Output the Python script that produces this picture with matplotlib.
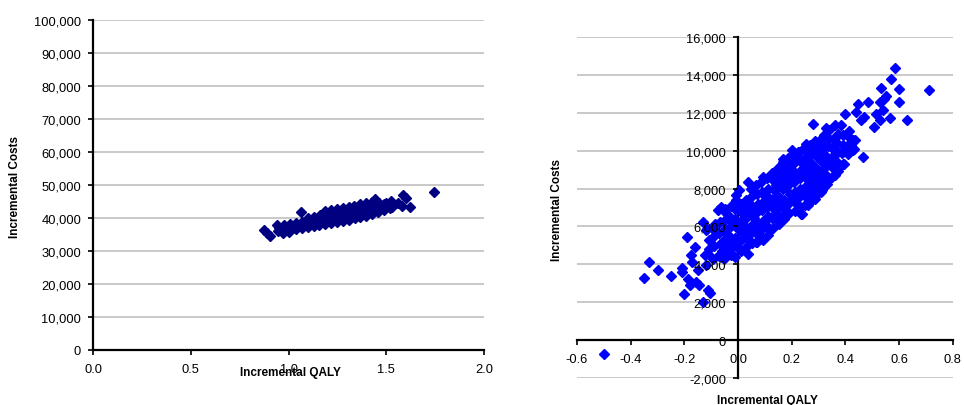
"""Two cost-effectiveness planes: incremental QALY vs incremental costs."""
import matplotlib

matplotlib.use("Agg")
import matplotlib.pyplot as plt
from matplotlib.ticker import StrMethodFormatter

# left plane: main cloud + stragglers
left_cloud = [
    (0.948, 36000), (0.952, 36850),
    (0.978, 36250), (0.982, 37050), (0.979, 37800),
    (1.008, 36450), (1.012, 37300), (1.009, 38150),
    (1.038, 36700), (1.042, 37600), (1.039, 38500),
    (1.068, 36950), (1.072, 37850), (1.069, 38900),
    (1.098, 37200), (1.102, 38300), (1.099, 39150), (1.101, 40000),
    (1.128, 37500), (1.132, 38550), (1.129, 39500), (1.131, 40450),
    (1.158, 37800), (1.162, 38900), (1.159, 39850), (1.161, 40900),
    (1.188, 38100), (1.192, 39250), (1.189, 40200), (1.191, 41150), (1.187, 42150),
    (1.218, 38450), (1.222, 39600), (1.219, 40550), (1.221, 41500), (1.217, 42500),
    (1.248, 38800), (1.252, 39900), (1.249, 40850), (1.251, 41800), (1.247, 42800),
    (1.278, 39150), (1.282, 40300), (1.279, 41200), (1.281, 42100), (1.277, 43100),
    (1.308, 39500), (1.312, 40600), (1.309, 41550), (1.311, 42500), (1.307, 43400),
    (1.338, 39900), (1.342, 40950), (1.339, 41900), (1.341, 42800), (1.337, 43700),
    (1.368, 40300), (1.372, 41300), (1.369, 42250), (1.371, 43100), (1.367, 44100),
    (1.398, 40700), (1.402, 41700), (1.399, 42600), (1.401, 43500), (1.397, 44400),
    (1.428, 41200), (1.432, 42200), (1.429, 43100), (1.431, 44000), (1.427, 44800),
    (1.458, 41800), (1.462, 42700), (1.459, 43600), (1.461, 44500),
    (1.488, 42500), (1.492, 43400), (1.489, 44250),
    (1.518, 43000), (1.522, 43950),
]
left_outliers = [
    (0.875, 36300), (0.89, 35600), (0.907, 34400), (0.94, 37900), (0.97, 35500),
    (1.00, 35700), (1.063, 41900), (1.44, 45900), (1.50, 44400), (1.526, 45200),
    (1.53, 43200), (1.56, 44500), (1.585, 46900), (1.60, 46100), (1.58, 43700),
    (1.62, 43300), (1.743, 47950),
]

# right plane
right_cloud = [
    (-0.112, 4550), (-0.108, 5300), (-0.114, 5850),
    (-0.092, 4300), (-0.088, 4950), (-0.091, 5500), (-0.087, 6150),
    (-0.072, 4450), (-0.068, 5050), (-0.071, 5650), (-0.069, 6250), (-0.073, 6850),
    (-0.052, 4300), (-0.049, 4850), (-0.051, 5300), (-0.048, 5850), (-0.053, 6300), (-0.047, 6750),
    (-0.031, 4550), (-0.029, 5050), (-0.033, 5500), (-0.028, 6000), (-0.032, 6550), (-0.027, 7100),
    (-0.012, 4400), (-0.009, 4950), (-0.011, 5400), (-0.008, 5950), (-0.013, 6400), (-0.010, 6900), (-0.007, 7400),
    (0.011, 4700), (0.008, 5250), (0.012, 5700), (0.009, 6250), (0.013, 6700), (0.010, 7200),
    (0.031, 4900), (0.028, 5450), (0.032, 5900), (0.029, 6450), (0.033, 6900), (0.030, 7400),
    (0.051, 5100), (0.048, 5650), (0.052, 6100), (0.049, 6650), (0.053, 7100), (0.050, 7600), (0.047, 8000),
    (0.071, 5200), (0.068, 5750), (0.072, 6200), (0.069, 6750), (0.073, 7200), (0.070, 7700), (0.067, 8200),
    (0.091, 5300), (0.088, 5850), (0.092, 6300), (0.089, 6850), (0.093, 7300), (0.090, 7800), (0.087, 8350),
    (0.111, 5550), (0.108, 6000), (0.112, 6550), (0.109, 7000), (0.113, 7550), (0.110, 8000), (0.107, 8550),
    (0.131, 5900), (0.128, 6450), (0.132, 6900), (0.129, 7450), (0.133, 7900), (0.130, 8450), (0.127, 8800),
    (0.151, 6150), (0.148, 6600), (0.152, 7150), (0.149, 7600), (0.153, 8150), (0.150, 8600), (0.147, 9100),
    (0.171, 6400), (0.168, 6950), (0.172, 7400), (0.169, 7950), (0.173, 8400), (0.170, 8950), (0.167, 9400),
    (0.191, 6700), (0.188, 7250), (0.192, 7700), (0.189, 8250), (0.193, 8700), (0.190, 9250), (0.187, 9600),
    (0.211, 6800), (0.208, 7350), (0.212, 7800), (0.209, 8350), (0.213, 8800), (0.210, 9350), (0.207, 9800),
    (0.231, 7000), (0.228, 7550), (0.232, 8000), (0.229, 8550), (0.233, 9000), (0.230, 9550), (0.227, 9950),
    (0.251, 7150), (0.248, 7600), (0.252, 8150), (0.249, 8600), (0.253, 9150), (0.250, 9600), (0.247, 10150),
    (0.271, 7350), (0.268, 7800), (0.272, 8350), (0.269, 8800), (0.273, 9350), (0.270, 9800), (0.267, 10300),
    (0.291, 7650), (0.288, 8100), (0.292, 8650), (0.289, 9100), (0.293, 9650), (0.290, 10100), (0.287, 10500),
    (0.311, 7900), (0.308, 8450), (0.312, 8900), (0.309, 9450), (0.313, 9900), (0.310, 10400),
    (0.331, 8250), (0.328, 8700), (0.332, 9250), (0.329, 9700), (0.333, 10250), (0.330, 10700),
    (0.351, 8600), (0.348, 9150), (0.352, 9600), (0.349, 10150), (0.353, 10600),
    (0.371, 8950), (0.368, 9400), (0.372, 9950), (0.369, 10400), (0.373, 10900),
    (0.391, 9300), (0.388, 9850), (0.392, 10300), (0.389, 10800),
    (0.411, 9800), (0.408, 10300), (0.412, 10700),
    (0.431, 10100), (0.428, 10550),
    # second layer to fill the gaps between the columns above
    (-0.060, 4700), (-0.040, 5600), (-0.020, 6200), (-0.001, 5200), (0.020, 6000),
    (0.020, 6950), (0.040, 5300), (0.040, 7150), (0.060, 6450), (0.080, 5500),
    (0.080, 7000), (0.100, 6300), (0.100, 7600), (0.120, 5800), (0.120, 7250),
    (0.140, 6700), (0.140, 8200), (0.160, 7300), (0.160, 8700), (0.180, 6700),
    (0.180, 8100), (0.200, 7500), (0.200, 9000), (0.220, 7200), (0.220, 8600),
    (0.240, 7800), (0.240, 9300), (0.260, 8500), (0.260, 9900), (0.280, 7600),
    (0.280, 9100), (0.300, 8300), (0.300, 9800), (0.320, 9100), (0.320, 10200),
    (0.340, 8500), (0.340, 9500), (0.360, 9800), (0.380, 9200), (0.400, 10100),
]
right_outliers = [
    (-0.50, -750), (-0.35, 3300), (-0.33, 4100), (-0.30, 3700), (-0.25, 3400),
    (-0.21, 3830), (-0.21, 3570), (-0.20, 2430), (-0.19, 5450), (-0.185, 3220),
    (-0.18, 2900), (-0.175, 4480), (-0.17, 4130), (-0.16, 4920), (-0.155, 3080),
    (-0.145, 2900), (-0.15, 3700), (-0.13, 2020), (-0.13, 6240), (-0.125, 4480),
    (-0.12, 3960), (-0.113, 2640), (-0.103, 2460), (-0.107, 4830), (-0.094, 5900),
    (-0.12, 5800), (-0.082, 5710), (-0.063, 7030), (-0.05, 6940), (-0.07, 4480),
    (-0.06, 4400), (-0.026, 4480), (-0.02, 4920), (-0.007, 7650), (0.005, 7900),
    (0.036, 8350), (0.036, 4570), (0.067, 5190), (0.073, 5540), (0.092, 8610),
    (0.129, 8790), (0.154, 6240), (0.166, 9580), (0.20, 10020), (0.222, 9930),
    (0.235, 6680), (0.238, 6650), (0.253, 10370), (0.26, 7120), (0.278, 11430),
    (0.287, 7440), (0.309, 10640), (0.31, 7820), (0.32, 10810), (0.328, 11200),
    (0.334, 10670), (0.34, 11070), (0.36, 11340), (0.361, 8700), (0.371, 10810),
    (0.384, 11340), (0.396, 9280), (0.40, 11950), (0.412, 11020), (0.42, 10280),
    (0.427, 10020), (0.434, 10550), (0.44, 12040), (0.446, 12480), (0.458, 11600),
    (0.465, 9670), (0.47, 11780), (0.483, 12570), (0.508, 11250), (0.514, 11950),
    (0.527, 11600), (0.527, 12570), (0.533, 13300), (0.539, 12130), (0.545, 12740),
    (0.552, 12890), (0.564, 11740), (0.57, 13800), (0.586, 14360), (0.598, 12570),
    (0.601, 13240), (0.63, 11600), (0.71, 13180),
]

left_xticks = [0.0, 0.5, 1.0, 1.5, 2.0]
left_yticks = list(range(0, 100001, 10000))
right_xticks = [-0.6, -0.4, -0.2, 0.0, 0.2, 0.4, 0.6, 0.8]
right_yticks = list(range(-2000, 16001, 2000))

GRID = "#c0c0c0"
FS = 9.3


def style(ax, xticks, yticks):
    ax.set_xticks(xticks)
    ax.set_yticks(yticks)
    ax.xaxis.set_major_formatter(StrMethodFormatter("{x:.1f}"))
    ax.yaxis.set_major_formatter(StrMethodFormatter("{x:,.0f}"))
    for y in yticks:
        ax.axhline(y, color=GRID, lw=1.2, zorder=0.5)
    for s in ("top", "right"):
        ax.spines[s].set_visible(False)
    for s in ("left", "bottom"):
        ax.spines[s].set_linewidth(1.6)
        ax.spines[s].set_zorder(1.5)
    ax.tick_params(axis="both", direction="out", length=3.6, width=1.2,
                   labelsize=FS, colors="black")
    ax.tick_params(axis="x", pad=6)
    ax.tick_params(axis="y", pad=5)
    ax.set_axisbelow(False)


def main():
    plt.rcParams["font.family"] = ["Liberation Sans", "DejaVu Sans"]
    plt.rcParams["axes.unicode_minus"] = False

    fig = plt.figure(figsize=(9.64, 4.06), dpi=100)

    ax1 = fig.add_axes([0.0965, 0.1355, 0.4056, 0.8128])
    pts = left_cloud + left_outliers
    ax1.plot([p[0] for p in pts], [p[1] for p in pts], ls="none", marker="D",
             ms=5.0, color="#000080", mec="#000080", zorder=2)
    ax1.set_xlim(0, 2)
    ax1.set_ylim(0, 100000)
    style(ax1, left_xticks, left_yticks)

    ax2 = fig.add_axes([0.5985, 0.0665, 0.390, 0.840])
    pts = right_cloud + right_outliers
    ax2.plot([p[0] for p in pts], [p[1] for p in pts], ls="none", marker="D",
             ms=5.0, color="#0000ff", mec="#0000ff", zorder=2)
    ax2.set_xlim(-0.6, 0.8)
    ax2.set_ylim(-2000, 16000)
    style(ax2, right_xticks, right_yticks)
    ax2.spines["left"].set_position(("data", 0))
    ax2.spines["bottom"].set_position(("data", 0))

    lab = dict(fontsize=8.5, fontweight="bold", ha="center", va="center")
    fig.text(290 / 964, 1 - 373 / 406, "Incremental QALY", **lab)
    fig.text(15.5 / 964, 1 - 187 / 406, "Incremental Costs", rotation=90, **lab)
    fig.text(767 / 964, 1 - 401 / 406, "Incremental QALY", **lab)
    fig.text(557 / 964, 1 - 210 / 406, "Incremental Costs", rotation=90, **lab)

    fig.savefig("out.png", dpi=100)


if __name__ == "__main__":
    main()
